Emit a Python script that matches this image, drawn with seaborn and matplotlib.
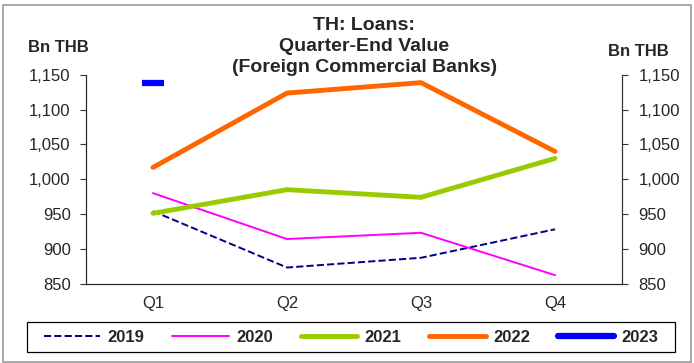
import pandas as pd
import matplotlib.pyplot as plt
import matplotlib.patches as mpatches
import seaborn as sns

quarters = ["Q1", "Q2", "Q3", "Q4"]
years = ["2019", "2020", "2021", "2022", "2023"]
v2019 = [954, 873, 887, 928]
v2020 = [980, 914, 923, 862]
v2021 = [951, 985, 974, 1030]
v2022 = [1017, 1124, 1139, 1040]
v2023 = [1139, None, None, None]

colors = {"2019": "#000080", "2020": "#FF00FF", "2021": "#99CC00",
          "2022": "#FF6600", "2023": "#0000FF"}
widths = {"2019": 1.4, "2020": 1.4, "2021": 3.5, "2022": 3.5, "2023": 4.5}


def main():
    sns.set_style("white")
    plt.rcParams['font.family'] = ['Liberation Sans', 'DejaVu Sans']

    rows = []
    for y, vals in zip(years, [v2019, v2020, v2021, v2022, v2023]):
        for i, v in enumerate(vals):
            if v is not None:
                rows.append({"year": y, "pos": i + 0.5, "value": v})
    df = pd.DataFrame(rows)

    fig = plt.figure(figsize=(6.94, 3.63), dpi=100)
    ax = fig.add_axes([0.1239, 0.2190, 0.7724, 0.5744])

    for y in years[:4]:
        sub = df[df["year"] == y]
        sns.lineplot(data=sub, x="pos", y="value", ax=ax, color=colors[y],
                     lw=widths[y], linestyle="--" if y == "2019" else "-",
                     dashes=False, label=y)
    # 2023 has only Q1, drawn as a short dash
    sub = df[df["year"] == "2023"]
    ax.plot(sub["pos"], sub["value"], marker="_", markersize=16, mew=4.5,
            color=colors["2023"], lw=0)
    ax.plot([], [], color=colors["2023"], lw=widths["2023"], label="2023",
            solid_capstyle="round")

    ax.set_xlim(0, 4)
    ax.set_ylim(850, 1150)
    ax.set_xticks([0, 1, 2, 3, 4])
    ax.set_xticklabels([])
    ax.set_xticks([0.5, 1.5, 2.5, 3.5], minor=True)
    ax.set_xticklabels(quarters, minor=True)
    ax.tick_params(axis="x", which="major", direction="out", length=5,
                   width=0.8, color="#333333")
    ax.tick_params(axis="x", which="minor", length=0, pad=9, labelsize=12)
    yt = list(range(850, 1151, 50))
    ax.set_yticks(yt)
    ax.set_yticklabels([f"{v:,}" for v in yt], fontsize=12)
    ax.tick_params(axis="y", direction="out", length=4, width=0.8, pad=7,
                   color="#333333", left=True)
    ax.set_xlabel("")
    ax.set_ylabel("")
    ax.grid(False)
    ax.spines["top"].set_visible(False)
    for s in ["left", "right", "bottom"]:
        ax.spines[s].set_color("#333333")
        ax.spines[s].set_linewidth(0.8)

    ax2 = ax.twinx()
    ax2.set_ylim(850, 1150)
    ax2.set_yticks(yt)
    ax2.set_yticklabels([f"{v:,}" for v in yt], fontsize=12)
    ax2.tick_params(axis="y", direction="out", length=4, width=0.8, pad=8,
                    color="#333333", right=True)
    ax2.spines["top"].set_visible(False)
    ax2.spines["right"].set_color("#333333")
    ax2.spines["right"].set_linewidth(0.8)
    ax2.grid(False)

    ax.get_legend().remove()
    handles, labels = ax.get_legend_handles_labels()
    fig.legend(handles, labels, loc="center", ncol=5,
               bbox_to_anchor=(0.5058, 0.0716), frameon=False,
               handlelength=3.4, handletextpad=0.42, columnspacing=1.68,
               borderaxespad=0, prop={"weight": "bold", "size": 12})
    frame = mpatches.Rectangle((27 / 694, 1 - 352 / 363), 648 / 694, 30 / 363,
                               transform=fig.transFigure, fill=False,
                               edgecolor="black", lw=0.9)
    fig.patches.append(frame)

    fig.text(0.525, 0.953, "TH: Loans:\nQuarter-End Value\n(Foreign Commercial Banks)",
             ha="center", va="top", fontsize=14, fontweight="bold",
             linespacing=1.32)
    fig.text(58 / 694, 1 - 47 / 363, "Bn THB", ha="center", va="center",
             fontsize=12, fontweight="bold")
    fig.text(638 / 694, 1 - 52 / 363, "Bn THB", ha="center", va="center",
             fontsize=12, fontweight="bold")

    border = mpatches.Rectangle((0.004, 0.003), 0.992, 0.983,
                                transform=fig.transFigure, fill=False,
                                edgecolor="#999999", lw=1.2)
    fig.patches.append(border)

    fig.savefig("out.png", dpi=100)


if __name__ == "__main__":
    main()
